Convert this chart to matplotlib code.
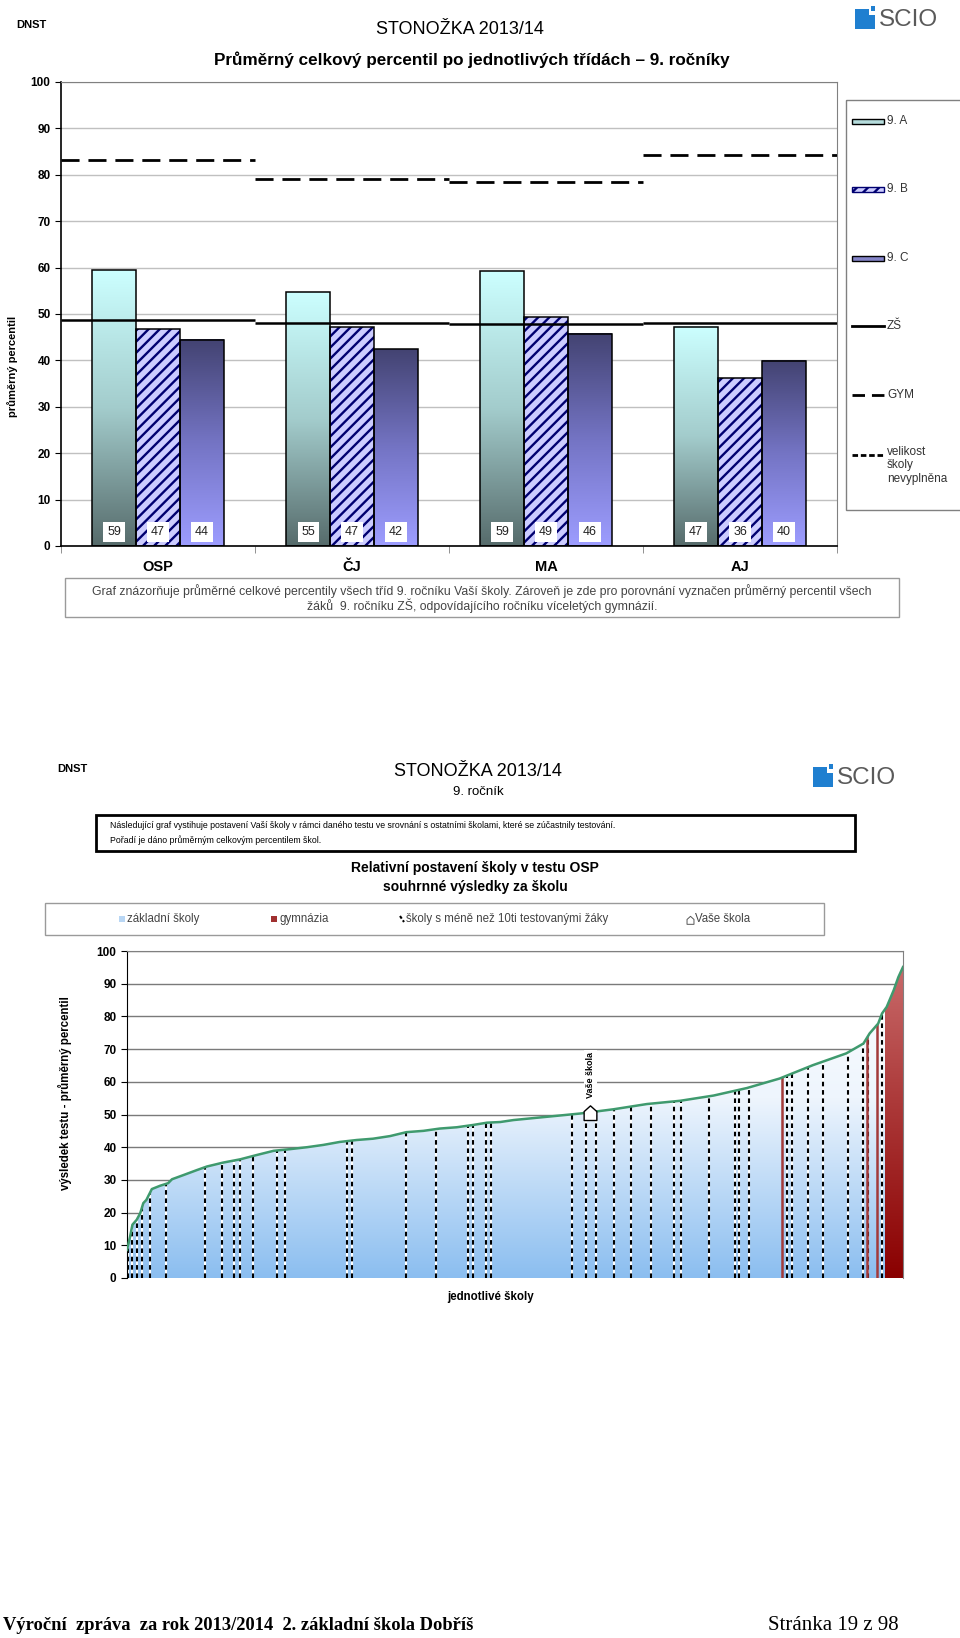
import matplotlib
matplotlib.use("Agg")
import matplotlib.pyplot as plt
import numpy as np
from matplotlib.colors import LinearSegmentedColormap
from matplotlib.patches import Rectangle
from matplotlib.path import Path

plt.rcParams['font.family'] = ['Liberation Sans', 'DejaVu Sans']
plt.rcParams['hatch.linewidth'] = 1.7

# --- graf 1: prumerny percentil po tridach
predmety = ['OSP', 'ČJ', 'MA', 'AJ']
trida_a = [59.4, 54.7, 59.2, 47.3]
trida_b = [46.7, 47.3, 49.4, 36.1]
trida_c = [44.4, 42.4, 45.7, 39.9]
zs = [48.6, 48.1, 47.9, 48.1]
gym = [83.1, 79.2, 78.5, 84.3]

# --- graf 2: relativni postaveni skoly (poradi skoly v % vs. percentil)
poradi = [0, 0.4, 0.7, 1.25, 1.7, 2.1, 2.5, 3.2, 4.25, 5.3, 5.8, 7.3, 9.0, 10.3,
          12.4, 14.6, 16.7, 18.9, 21.0, 23.2, 25.3, 27.4, 29.6, 31.7, 33.9, 36.0,
          38.2, 40.3, 42.5, 44.6, 46.4, 48.1, 49.8, 54.1, 58.4, 62.7, 67.0, 71.3,
          75.6, 79.9, 84.1, 88.4, 92.7, 94.9, 95.7, 96.8, 97.3, 97.9, 98.8, 99.4, 100]
percentil = [8.6, 12.7, 16.3, 17.8, 19.8, 22.9, 23.9, 27.2, 28.2, 29.0, 30.2, 31.5,
             33.0, 34.1, 35.3, 36.3, 37.6, 38.9, 39.4, 40.0, 40.7, 41.6, 42.2, 42.6,
             43.4, 44.6, 45.0, 45.7, 46.1, 46.8, 47.5, 47.7, 48.3, 49.3, 50.3, 51.6,
             53.2, 54.2, 55.8, 58.1, 61.0, 65.1, 68.7, 71.7, 74.8, 77.8, 80.9, 82.9,
             88.0, 92.0, 95.1]
male_skoly = [0.1, 0.6, 1.25, 1.9, 3.0, 5.0, 10.0, 12.2, 13.8, 14.6, 16.2, 19.3,
              20.3, 28.3, 29.0, 36.0, 39.8, 43.9, 44.6, 46.2, 46.9, 57.4, 59.1,
              60.5, 62.7, 65.0, 67.5, 70.5, 71.4, 75.0, 78.4, 78.9, 80.1, 85.0,
              85.7, 87.8, 89.7, 92.9, 94.9, 95.5, 97.3]
gym_skoly = [84.4, 95.3, 96.6]
gym_od = 97.7
vase_skola = 59.7
vase_percentil = 50.5

W, H = 960, 1638
NARROW = ['Liberation Sans Narrow', 'Liberation Sans']


def box(x0, y0, x1, y1):
    return [x0 / W, 1 - y1 / H, (x1 - x0) / W, (y1 - y0) / H]


def gradient(ax, ext, colors, z):
    cmap = LinearSegmentedColormap.from_list('g', colors)
    return ax.imshow(np.linspace(0, 1, 256).reshape(-1, 1), cmap=cmap, origin='lower',
                     extent=ext, aspect='auto', zorder=z, interpolation='bilinear')


fig = plt.figure(figsize=(9.6, 16.38), dpi=100)
page = fig.add_axes([0, 0, 1, 1], zorder=0)
page.set_xlim(0, W)
page.set_ylim(H, 0)
page.axis('off')

# ================= graf 1 =================
ax1 = fig.add_axes(box(61, 82, 837, 546), zorder=1)
x = np.arange(len(predmety))
w = 0.226
for i in x:
    gradient(ax1, [i - 1.5 * w, i - 0.5 * w, 0, trida_a[i]], ['#566b6b', '#a3cccc', '#ccffff'], 2)
    gradient(ax1, [i + 0.5 * w, i + 1.5 * w, 0, trida_c[i]], ['#9d9dff', '#7474c4', '#434372'], 2)
ax1.bar(x, trida_b, w, color='#ccccff', edgecolor='#000070', hatch='///', linewidth=0, zorder=2)
for vals, off in [(trida_a, -w), (trida_b, 0), (trida_c, w)]:
    ax1.bar(x + off, vals, w, fill=False, edgecolor='black', linewidth=1.1, zorder=3)
    for i in x:
        ax1.text(i + off, 3.0, '%.0f' % vals[i], ha='center', va='center', fontsize=9,
                 color='#222222', zorder=4,
                 bbox=dict(boxstyle='square,pad=0.3', fc='white', ec='none'))
ax1.hlines(zs, x - 0.5, x + 0.5, colors='black', linewidth=1.8, zorder=3)
ax1.hlines(gym, x - 0.5, x + 0.5, colors='black', linewidth=2, linestyles=(0, (6.5, 3.2)), zorder=3)
ax1.set_xlim(-0.5, 3.5)
ax1.set_ylim(0, 100)
ax1.set_yticks(range(0, 101, 10))
ax1.yaxis.grid(True, color='#c0c0c0', linewidth=1)
ax1.set_axisbelow(True)
ax1.set_xticks(x)
ax1.set_xticklabels(predmety, fontsize=10.5, fontweight='bold')
ax1.set_xticks([-0.5, 0.5, 1.5, 2.5, 3.5], minor=True)
ax1.tick_params(axis='x', which='major', length=0, pad=10)
ax1.tick_params(axis='x', which='minor', length=5, color='#808080')
ax1.tick_params(axis='y', length=4, labelsize=8.5)
for t in ax1.get_yticklabels():
    t.set_fontweight('bold')
for s in ['top', 'right']:
    ax1.spines[s].set_color('#808080')
ax1.spines['left'].set_linewidth(1.2)
ax1.spines['bottom'].set_linewidth(1.2)
page.text(13, 366, 'průměrný percentil', rotation=90, fontsize=8, fontweight='bold',
          ha='center', va='center')

# legenda grafu 1
page.add_patch(Rectangle((846, 100), 140, 410, fill=False, ec='#808080', lw=1))
page.add_patch(Rectangle((852, 119), 32, 5, fc='#b5dcdc', ec='black', lw=1))
page.add_patch(Rectangle((852, 187), 32, 5, fc='#ccccff', ec='#000070', hatch='///', lw=1))
page.add_patch(Rectangle((852, 256), 32, 5, fc='#8484c8', ec='black', lw=1))
page.plot([852, 884], [326, 326], color='black', lw=2)
page.plot([852, 884], [395, 395], color='black', lw=2, ls=(0, (4.5, 2.5)))
page.plot([852, 884], [455, 455], color='black', lw=2, ls=(0, (2, 1)))
leg1 = [('9. A', 121), ('9. B', 189), ('9. C', 258), ('ZŠ', 326), ('GYM', 395)]
for lab, yy in leg1:
    page.text(887, yy, lab, fontsize=8.5, va='center', color='#333333')
page.text(887, 446, 'velikost\nškoly\nnevyplněna', fontsize=8.5, va='top', color='#333333',
          linespacing=1.15)

# hlavicka 1
page.text(16, 25, 'DNST', fontsize=8, fontweight='bold', va='center')
page.text(460, 29, 'STONOŽKA 2013/14', fontsize=13, ha='center', va='center', family=NARROW)
page.text(472, 60, 'Průměrný celkový percentil po jednotlivých třídách – 9. ročníky', fontsize=12.3,
          fontweight='bold', ha='center', va='center', family=NARROW)
page.add_patch(Rectangle((65, 578), 834, 39, fill=False, ec='#9a9a9a', lw=1))
page.text(482, 591, 'Graf znázorňuje průměrné celkové percentily všech tříd 9. ročníku Vaší školy. '
          'Zároveň je zde pro porovnání vyznačen průměrný percentil všech', fontsize=8.8,
          ha='center', va='center', color='#444444')
page.text(482, 606, 'žáků  9. ročníku ZŠ, odpovídajícího ročníku víceletých gymnázií.', fontsize=8.8,
          ha='center', va='center', color='#444444')


def logo(x0, y0):
    page.add_patch(Rectangle((x0, y0), 20, 20, fc='#1f7fd0', ec='none'))
    page.add_patch(Rectangle((x0 + 14, y0), 6, 6, fc='white', ec='none'))
    page.add_patch(Rectangle((x0 + 15.5, y0 - 3), 4.5, 4.5, fc='#1f7fd0', ec='none'))
    page.text(x0 + 24, y0 + 11, 'SCIO', fontsize=17.5, va='center', color='#5a5a5a')


logo(855, 9)

# ================= graf 2 =================
ax2 = fig.add_axes(box(127, 951, 903, 1278), zorder=1)
plocha = ax2.fill_between(poradi, percentil, 0, facecolor='none', edgecolor='none')
obrys = plocha.get_paths()[0]
modra = gradient(ax2, [0, 100, 0, 100], [(0, '#8bbef0'), (0.55, '#eef5fd'), (1, '#ffffff')], 1)
modra.set_clip_path(obrys, transform=ax2.transData)
cervena = gradient(ax2, [gym_od, 100, 0, 100], [(0, '#8a0000'), (0.6, '#b04040'), (1, '#cc7070')], 1.5)
cervena.set_clip_path(obrys, transform=ax2.transData)
l1 = ax2.vlines(male_skoly, 0, 100, colors='white', linewidth=1.5, zorder=2)
l2 = ax2.vlines(male_skoly, 0, 100, colors='black', linewidth=1.5, linestyles=(0, (2.2, 1.8)), zorder=2.1)
l3 = ax2.vlines(gym_skoly, 0, 100, colors='#a33a3a', linewidth=1.8, zorder=2.2)
for c in (l1, l2, l3):
    c.set_clip_path(obrys, transform=ax2.transData)
ax2.plot(poradi, percentil, color='#3f9a6e', linewidth=1.8, zorder=3)

dum = Path([(-0.5, -0.55), (0.5, -0.55), (0.5, 0.15), (0.0, 0.6), (-0.5, 0.15), (-0.5, -0.55)],
           [Path.MOVETO, Path.LINETO, Path.LINETO, Path.LINETO, Path.LINETO, Path.CLOSEPOLY])
ax2.plot([vase_skola], [vase_percentil], marker=dum, markersize=11, markerfacecolor='white',
         markeredgecolor='black', markeredgewidth=1, zorder=5)
ax2.text(vase_skola, 62, 'Vaše škola', rotation=90, fontsize=6.5, fontweight='bold',
         ha='center', va='center', zorder=4,
         bbox=dict(boxstyle='square,pad=0.25', fc='white', ec='none'))

ax2.set_xlim(0, 100)
ax2.set_ylim(0, 100)
ax2.set_xticks([])
ax2.set_yticks(range(0, 101, 10))
ax2.yaxis.grid(True, color='#7a7a7a', linewidth=1)
ax2.set_axisbelow(True)
ax2.tick_params(axis='y', length=4, labelsize=8.5)
for t in ax2.get_yticklabels():
    t.set_fontweight('bold')
for s in ['top', 'right']:
    ax2.spines[s].set_color('#808080')
ax2.spines['bottom'].set_visible(False)
page.text(65, 1093, 'výsledek testu - průměrný percentil', rotation=90, fontsize=8.3,
          fontweight='bold', ha='center', va='center')
page.text(491, 1297, 'jednotlivé školy', fontsize=8.3, fontweight='bold', ha='center', va='center')

# hlavicka 2
page.text(57, 769, 'DNST', fontsize=8, fontweight='bold', va='center')
page.text(478, 772, 'STONOŽKA 2013/14', fontsize=13, ha='center', va='center', family=NARROW)
page.text(478, 792, '9. ročník', fontsize=9.5, ha='center', va='center', family=NARROW)
logo(813, 767)
page.add_patch(Rectangle((96, 815), 759, 36, fill=False, ec='black', lw=2))
page.text(110, 826, 'Následující graf vystihuje postavení Vaší školy v rámci daného testu ve srovnání '
          's ostatními školami, které se zúčastnily testování.', fontsize=6.3, va='center',
          family=NARROW)
page.text(110, 840, 'Pořadí je dáno průměrným celkovým percentilem škol.', fontsize=6.3, va='center',
          family=NARROW)
page.text(475, 868, 'Relativní postavení školy v testu OSP', fontsize=10, fontweight='bold',
          ha='center', va='center', family=NARROW)
page.text(475, 887, 'souhrnné výsledky za školu', fontsize=10, fontweight='bold',
          ha='center', va='center', family=NARROW)

# legenda grafu 2
page.add_patch(Rectangle((45, 903), 779, 32, fill=False, ec='#9a9a9a', lw=1))
page.add_patch(Rectangle((119, 916), 6, 6, fc='#b8d6f4', ec='none'))
page.text(127, 919, 'základní školy', fontsize=8.3, va='center', color='#444444')
page.add_patch(Rectangle((271, 916), 6, 6, fc='#a03030', ec='none'))
page.text(279, 919, 'gymnázia', fontsize=8.3, va='center', color='#444444')
page.plot([400, 404], [916, 922], color='black', lw=1.5, ls=(0, (1.5, 1)))
page.text(406, 919, 'školy s méně než 10ti testovanými žáky', fontsize=8.3, va='center', color='#444444')
page.plot([690], [920], marker=dum, markersize=6, markerfacecolor='white', markeredgecolor='#555555',
          markeredgewidth=0.7)
page.text(695, 919, 'Vaše škola', fontsize=8.3, va='center', color='#444444')

# zapati
page.text(3, 1626, 'Výroční  zpráva  za rok 2013/2014  2. základní škola Dobříš', fontsize=13.3,
          fontweight='bold', va='center', family='Liberation Serif')
page.text(899, 1626, 'Stránka 19 z 98', fontsize=15, ha='right', va='center', family='Liberation Serif')

fig.savefig('out.png', dpi=100)
